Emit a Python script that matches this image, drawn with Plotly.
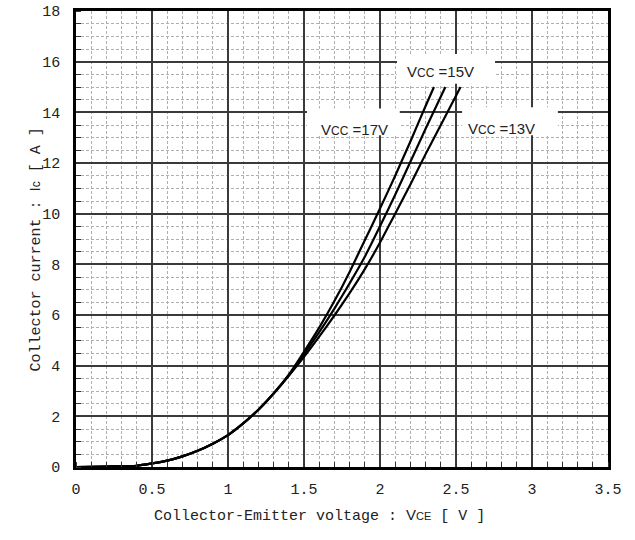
import plotly.graph_objects as go

# ---- data ----
vce_low = [0, 0.2, 0.4, 0.5, 0.6, 0.7, 0.8, 0.9, 1.0, 1.1, 1.2, 1.3]
ic_low = [0, 0.02, 0.05, 0.14, 0.25, 0.42, 0.64, 0.92, 1.26, 1.72, 2.26, 2.9]

vce_17 = vce_low + [1.4, 1.5, 1.6, 1.7, 1.8, 1.9, 2.0, 2.1, 2.2, 2.3, 2.355]
ic_17 = ic_low + [3.65, 4.55, 5.5, 6.55, 7.7, 8.95, 10.2, 11.5, 12.85, 14.25, 15.0]

vce_15 = vce_low + [1.4, 1.5, 1.6, 1.7, 1.8, 1.9, 2.0, 2.1, 2.2, 2.3, 2.43]
ic_15 = ic_low + [3.62, 4.45, 5.32, 6.25, 7.25, 8.3, 9.5, 10.75, 12.05, 13.35, 15.0]

vce_13 = vce_low + [1.4, 1.5, 1.6, 1.7, 1.8, 1.9, 2.0, 2.1, 2.2, 2.3, 2.4, 2.53]
ic_13 = ic_low + [3.6, 4.35, 5.15, 5.98, 6.86, 7.81, 8.86, 10.0, 11.15, 12.35, 13.5, 15.0]

series = [("Vcc=17V", vce_17, ic_17), ("Vcc=15V", vce_15, ic_15), ("Vcc=13V", vce_13, ic_13)]

x_ticks = [0, 0.5, 1, 1.5, 2, 2.5, 3, 3.5]
x_tick_text = ["0", "0.5", "1", "1.5", "2", "2.5", "3", "3.5"]
y_ticks = [0, 2, 4, 6, 8, 10, 12, 14, 16, 18]
y_tick_text = [str(v) for v in y_ticks]

labels = [
    # text, text x, text y, box x0, x1, y0, y1 (data units)
    ("15", 2.395, 15.63, 2.112, 2.757, 15.13, 16.3),
    ("17", 1.83, 13.34, 1.52, 2.13, 13.1, 14.15),
    ("13", 2.80, 13.38, 2.54, 3.17, 13.1, 14.2),
]

fig = go.Figure()
for name, xs, ys in series:
    fig.add_trace(go.Scatter(x=xs, y=ys, mode="lines", name=name,
                             line=dict(color="black", width=2.2, shape="spline", smoothing=0.5),
                             showlegend=False, hoverinfo="skip"))

for num, tx, ty, x0, x1, y0, y1 in labels:
    fig.add_shape(type="rect", x0=x0, x1=x1, y0=y0, y1=y1, xref="x", yref="y",
                  fillcolor="white", line=dict(width=0), layer="above")
    fig.add_annotation(x=tx, y=ty, xref="x", yref="y", showarrow=False,
                       text="V<span style='font-size:12px'>CC</span> =" + num + "V",
                       font=dict(family="Liberation Sans", size=15, color="#222"))

mono = "Liberation Mono"
fig.add_annotation(xref="paper", yref="paper", x=0.4586, y=-0.131, showarrow=False,
                   text="Collector-Emitter voltage : <span style='font-family:Liberation Sans'>V</span>"
                        "<span style='font-family:Liberation Sans;font-size:11px'>CE</span> [ V ]",
                   font=dict(family=mono, size=15, color="#222"))
fig.add_annotation(xref="paper", yref="paper", x=-0.0977, y=0.476, showarrow=False, textangle=-90,
                   text="Collector current : <span style='font-family:Liberation Sans'>I</span>"
                        "<span style='font-family:Liberation Sans;font-size:12px'>c</span> [ A ]",
                   font=dict(family=mono, size=15, color="#222"))

axis_common = dict(showline=True, linecolor="black", linewidth=2.5, mirror=True,
                   showgrid=True, gridcolor="#3a3a3a", gridwidth=1.5, zeroline=False,
                   automargin=False,
                   ticks="", tickfont=dict(family=mono, size=15, color="#222"))

fig.update_xaxes(range=[0, 3.5], tickvals=x_ticks, ticktext=x_tick_text,
                 minor=dict(dtick=0.1, tick0=0, showgrid=True, gridcolor="#b0b0b0", gridwidth=1,
                            griddash="3px,2px", ticks="inside", ticklen=5, tickcolor="#333"),
                 ticklabelstandoff=6, **axis_common)
fig.update_yaxes(range=[0, 18], tickvals=y_ticks, ticktext=y_tick_text,
                 minor=dict(dtick=0.5, tick0=0, showgrid=True, gridcolor="#b0b0b0", gridwidth=1,
                            griddash="3px,2px", ticks="inside", ticklen=5, tickcolor="#333"),
                 ticklabelstandoff=10, **axis_common)

fig.update_layout(width=635, height=540, margin=dict(l=76, r=27, t=11, b=73, autoexpand=False),
                  paper_bgcolor="white", plot_bgcolor="white", showlegend=False)

# remove the default 8px page margin so the figure sits at the window's top-left corner
fig.write_html("out.html", config={"displayModeBar": False},
               post_script=["document.body.style.margin='0';"])
